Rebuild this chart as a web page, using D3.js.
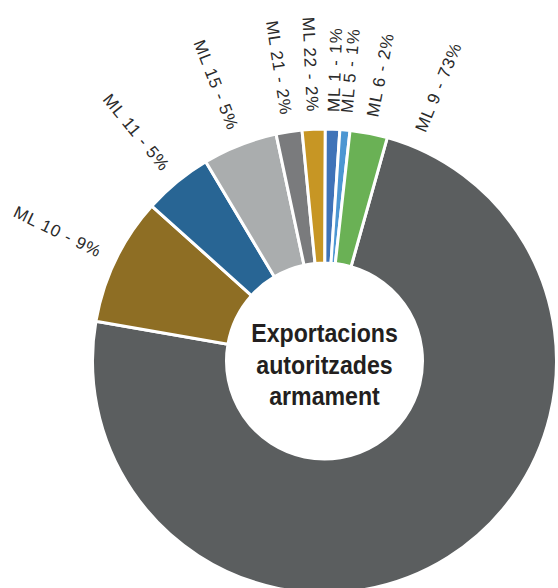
<!DOCTYPE html>
<html>
<head>
<meta charset="utf-8">
<script src="https://cdn.jsdelivr.net/npm/d3@7"></script>
<style>
  body { margin: 0; background: #fff; }
  svg { display: block; }
</style>
</head>
<body>
<div class="chart"></div>
<script>
const width = 558
const height = 588

// categories in drawing order, clockwise from the top-right
const categories = ['ML 9', 'ML 10', 'ML 11', 'ML 15', 'ML 21', 'ML 22', 'ML 1', 'ML 5', 'ML 6']
const values = [73.3, 8.9, 4.8, 5.2, 1.8, 1.6, 1.0, 0.7, 2.6]
const pctLabels = ['73%', '9%', '5%', '5%', '2%', '2%', '1%', '1%', '2%']
const colors = ['#5b5e5f', '#8e6e24', '#286594', '#aaadae', '#7a7b7d', '#c79624', '#3f73b8', '#4c96d2', '#6ab155']
const centerLines = ['Exportacions', 'autoritzades', 'armament']

const cx = 324.5
const cy = 361
const outerR = 232
const innerR = 98
const labelR = 249

const data = categories.map((c, i) => ({ cat: c, value: values[i], pct: pctLabels[i], color: colors[i] }))

const start = 15.7 * Math.PI / 180
const pie = d3.pie().sort(null).value(d => d.value).startAngle(start).endAngle(start + 2 * Math.PI)
const arc = d3.arc().innerRadius(innerR).outerRadius(outerR)

const svg = d3.select('.chart').append('svg')
  .attr('width', width)
  .attr('height', height)

const g = svg.append('g').attr('transform', `translate(${cx}, ${cy})`)

const arcs = pie(data)

g.selectAll('path.slice')
  .data(arcs)
  .join('path')
  .attr('class', 'slice')
  .attr('d', arc)
  .attr('fill', d => d.data.color)
  .attr('stroke', '#fff')
  .attr('stroke-width', 3)
  .attr('stroke-linejoin', 'miter')

// big slice gets its label near its start, others at mid angle
function labelAngle(d) {
  if (d.endAngle - d.startAngle > Math.PI) return d.startAngle + 0.12
  return (d.startAngle + d.endAngle) / 2
}

g.selectAll('text.lbl')
  .data(arcs)
  .join('text')
  .attr('class', 'lbl')
  .each(function (d) {
    let a = labelAngle(d)
    a = ((a % (2 * Math.PI)) + 2 * Math.PI) % (2 * Math.PI)
    const deg = a * 180 / Math.PI
    const x = labelR * Math.sin(a)
    const y = -labelR * Math.cos(a)
    const right = a < Math.PI
    d3.select(this)
      .attr('transform', `translate(${x}, ${y}) rotate(${right ? deg - 90 : deg + 90})`)
      .attr('text-anchor', right ? 'start' : 'end')
  })
  .attr('dy', '0.35em')
  .style('font-family', '"Liberation Sans", Arial, sans-serif')
  .style('font-size', '17px')
  .style('letter-spacing', '0.9px')
  .style('fill', '#2a2a2a')
  .text(d => `${d.data.cat} - ${d.data.pct}`)

g.append('circle').attr('r', innerR - 1).attr('fill', '#fff')

g.append('text')
  .attr('text-anchor', 'middle')
  .attr('transform', 'scale(0.89, 1)')
  .style('font-family', '"Liberation Sans", Arial, sans-serif')
  .style('font-weight', 'bold')
  .style('font-size', '26px')
  .style('fill', '#231f20')
  .selectAll('tspan')
  .data(centerLines)
  .join('tspan')
  .attr('x', 0)
  .attr('y', (d, i) => -19 + i * 31.5)
  .text(d => d)
</script>
</body>
</html>
